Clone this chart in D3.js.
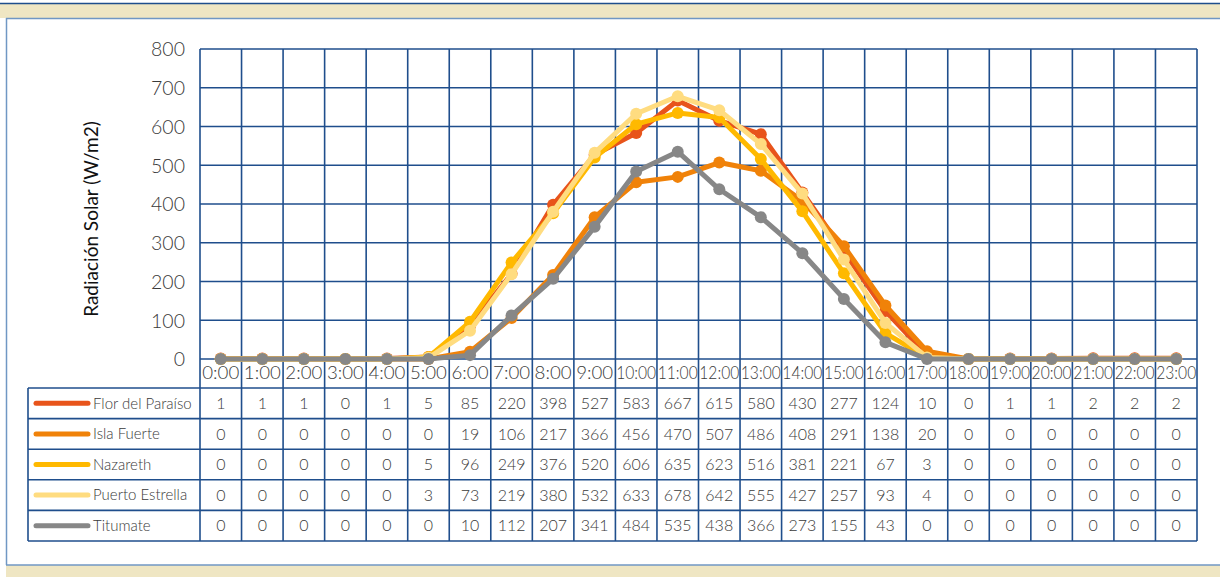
<!DOCTYPE html>
<html>
<head>
<meta charset="utf-8">
<script src="https://cdn.jsdelivr.net/npm/d3@7"></script>
<style>
  body { margin: 0; background: #fff; }
  text { font-family: "Lato", "DejaVu Sans", sans-serif; font-weight: 300; fill: #3a3a3a; }
</style>
</head>
<body>
<script>
var hours = ["0:00","1:00","2:00","3:00","4:00","5:00","6:00","7:00","8:00","9:00","10:00","11:00",
             "12:00","13:00","14:00","15:00","16:00","17:00","18:00","19:00","20:00","21:00","22:00","23:00"];
var stations = ["Flor del Paraíso", "Isla Fuerte", "Nazareth", "Puerto Estrella", "Titumate"];
var florDelParaiso = [1,1,1,0,1,5,85,220,398,527,583,667,615,580,430,277,124,10,0,1,1,2,2,2];
var islaFuerte     = [0,0,0,0,0,0,19,106,217,366,456,470,507,486,408,291,138,20,0,0,0,0,0,0];
var nazareth       = [0,0,0,0,0,5,96,249,376,520,606,635,623,516,381,221,67,3,0,0,0,0,0,0];
var puertoEstrella = [0,0,0,0,0,3,73,219,380,532,633,678,642,555,427,257,93,4,0,0,0,0,0,0];
var titumate       = [0,0,0,0,0,0,10,112,207,341,484,535,438,366,273,155,43,0,0,0,0,0,0,0];
var yTicks = [0,100,200,300,400,500,600,700,800];
var colors = ["#e8541b", "#f08209", "#ffb900", "#ffdc80", "#878787"];

var seriesValues = [florDelParaiso, islaFuerte, nazareth, puertoEstrella, titumate];

var w = 1220, h = 577;
var plotLeft = 200, plotRight = 1197, plotTop = 49, plotBottom = 359;
var tableTop = 388, rowH = 30.6, tableLeft = 28;
var tableBottom = tableTop + rowH * stations.length;

var svg = d3.select("body").append("svg")
    .attr("width", w)
    .attr("height", h);

// frame bands
svg.append("rect").attr("x", 0).attr("y", 3).attr("width", w).attr("height", 15)
    .style("fill", "#efe6c3");
svg.append("line").attr("x1", 0).attr("x2", w).attr("y1", 3.5).attr("y2", 3.5)
    .style("stroke", "#1f4e8c").style("stroke-width", 1.5);
svg.append("line").attr("x1", 6).attr("x2", w).attr("y1", 18.5).attr("y2", 18.5)
    .style("stroke", "#7097c4").style("stroke-width", 1.5);
svg.append("line").attr("x1", 6.5).attr("x2", 6.5).attr("y1", 18).attr("y2", 565)
    .style("stroke", "#7097c4").style("stroke-width", 1.5);
svg.append("rect").attr("x", 6).attr("y", 565).attr("width", w).attr("height", 12)
    .style("fill", "#efe6c3");
svg.append("line").attr("x1", 6).attr("x2", w).attr("y1", 565).attr("y2", 565)
    .style("stroke", "#7097c4").style("stroke-width", 1.5);

var x = d3.scaleBand()
    .domain(hours)
    .range([plotLeft, plotRight]);

var y = d3.scaleLinear()
    .domain([0, 800])
    .range([plotBottom, plotTop]);

var grid = svg.append("g").attr("class", "grid")
    .style("stroke", "#1f4e8c").style("stroke-width", 1.6);

// horizontal gridlines
grid.selectAll(".hgrid")
    .data(yTicks)
    .enter()
    .append("line")
    .attr("x1", plotLeft).attr("x2", plotRight)
    .attr("y1", function(d){ return y(d); })
    .attr("y2", function(d){ return y(d); });

// vertical lines through plot, hour row and table
grid.selectAll(".vgrid")
    .data(hours.concat(["end"]))
    .enter()
    .append("line")
    .attr("x1", function(d, i){ return i < hours.length ? x(d) : plotRight; })
    .attr("x2", function(d, i){ return i < hours.length ? x(d) : plotRight; })
    .attr("y1", plotTop).attr("y2", tableBottom);

// table rows
grid.selectAll(".trow")
    .data(d3.range(stations.length + 1))
    .enter()
    .append("line")
    .attr("x1", tableLeft).attr("x2", plotRight)
    .attr("y1", function(d){ return tableTop + d * rowH; })
    .attr("y2", function(d){ return tableTop + d * rowH; });

grid.append("line")
    .attr("x1", tableLeft).attr("x2", tableLeft)
    .attr("y1", tableTop).attr("y2", tableBottom);

// y axis labels
var yAxis = d3.axisLeft(y).tickValues(yTicks).tickSize(0).tickPadding(15);
var axis = svg.append("g")
    .attr("transform", "translate(" + plotLeft + ",0)")
    .call(yAxis);
axis.select(".domain").remove();
axis.selectAll("text")
    .style("font-size", "19.5px")
    .style("font-family", "Lato, sans-serif")
    .style("font-weight", 300)
    .style("fill", "#3a3a3a")
    .attr("dy", "0.35em");

svg.append("text")
    .attr("transform", "translate(98," + 219 + ") rotate(-90)")
    .attr("text-anchor", "middle")
    .style("font-size", "19px")
    .style("font-weight", 400)
    .style("fill", "#111")
    .text("Radiación Solar (W/m2)");

// hour labels
svg.selectAll(".hour")
    .data(hours)
    .enter()
    .append("text")
    .attr("class", "hour")
    .attr("x", function(d){ return x(d) + x.bandwidth() / 2; })
    .attr("y", plotBottom + 20)
    .attr("text-anchor", "middle")
    .attr("textLength", function(d){ return d.length > 4 ? 40 : 37; })
    .attr("lengthAdjust", "spacingAndGlyphs")
    .style("font-size", "17px")
    .text(function(d){ return d; });

// lines and markers
var line = d3.line()
    .x(function(d, i){ return x(hours[i]) + x.bandwidth() / 2; })
    .y(function(d){ return y(d); });

var series = svg.selectAll(".series")
    .data(seriesValues)
    .enter()
    .append("g")
    .attr("class", "series");

series.append("path")
    .attr("d", function(d){ return line(d); })
    .style("fill", "none")
    .style("stroke", function(d, i){ return colors[i]; })
    .style("stroke-width", 5)
    .style("stroke-linejoin", "round");

series.each(function(vals, si){
    d3.select(this).selectAll("circle")
        .data(vals)
        .enter()
        .append("circle")
        .attr("cx", function(d, i){ return x(hours[i]) + x.bandwidth() / 2; })
        .attr("cy", function(d){ return y(d); })
        .attr("r", 6)
        .style("fill", colors[si]);
});

// table legend and values
var rows = svg.selectAll(".trowg")
    .data(stations)
    .enter()
    .append("g")
    .attr("transform", function(d, i){ return "translate(0," + (tableTop + i * rowH + rowH / 2) + ")"; });

rows.append("line")
    .attr("x1", 36).attr("x2", 88)
    .attr("y1", 0).attr("y2", 0)
    .style("stroke", function(d, i){ return colors[i]; })
    .style("stroke-width", 5)
    .style("stroke-linecap", "round");

rows.append("text")
    .attr("x", 93)
    .attr("dy", "0.35em")
    .style("font-size", "15px")
    .text(function(d){ return d; });

rows.each(function(name, ri){
    d3.select(this).selectAll(".val")
        .data(seriesValues[ri])
        .enter()
        .append("text")
        .attr("x", function(d, i){ return x(hours[i]) + x.bandwidth() / 2; })
        .attr("dy", "0.35em")
        .attr("text-anchor", "middle")
        .style("font-size", "16px")
        .text(function(d){ return d; });
});
</script>
</body>
</html>
